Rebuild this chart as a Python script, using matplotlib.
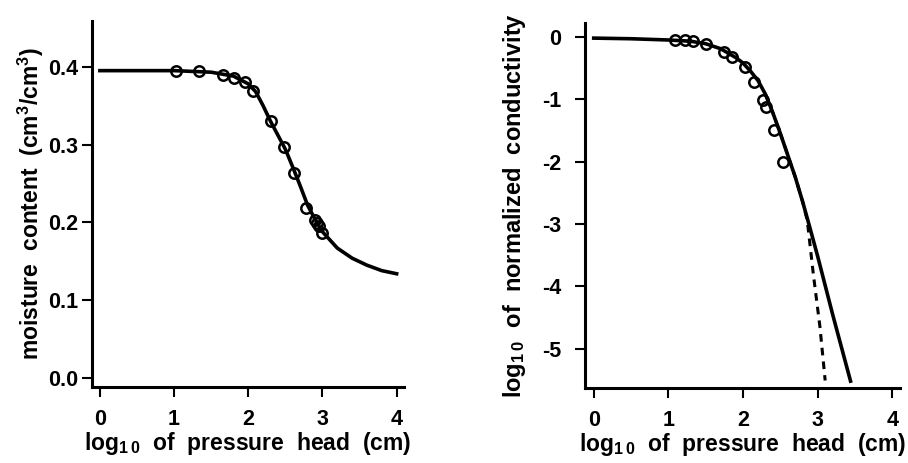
import matplotlib
matplotlib.use("Agg")
import matplotlib.pyplot as plt

plt.rcParams['font.family'] = ['Liberation Sans', 'DejaVu Sans']
plt.rcParams['font.weight'] = 'bold'
plt.rcParams['mathtext.fontset'] = 'custom'
plt.rcParams['mathtext.rm'] = 'Liberation Sans:bold'
plt.rcParams['mathtext.default'] = 'rm'

# left panel: measured moisture content
theta_x = [1.02, 1.33, 1.66, 1.81, 1.95, 2.07, 2.30, 2.48, 2.62, 2.78, 2.90, 2.92, 2.95, 3.00]
theta_y = [0.394, 0.394, 0.390, 0.385, 0.380, 0.369, 0.330, 0.297, 0.264, 0.219, 0.203, 0.199, 0.196, 0.187]

# left panel: fitted retention curve
fit_x = [0.0, 1.0, 1.5, 1.8, 2.0, 2.1, 2.2, 2.3, 2.4, 2.5, 2.6, 2.7, 2.8, 2.9, 3.0,
         3.2, 3.4, 3.6, 3.8, 4.0]
fit_y = [0.395, 0.395, 0.393, 0.388, 0.378, 0.368, 0.350, 0.330, 0.312, 0.294, 0.271,
         0.247, 0.222, 0.204, 0.188, 0.167, 0.154, 0.145, 0.138, 0.134]

# right panel: measured conductivity
k_x = [1.09, 1.22, 1.33, 1.51, 1.74, 1.85, 2.03, 2.15, 2.27, 2.31, 2.41, 2.54]
k_y = [-0.05, -0.05, -0.06, -0.12, -0.25, -0.32, -0.48, -0.73, -1.01, -1.12, -1.49, -2.01]

# right panel: solid model line
ks_x = [0.0, 0.5, 1.0, 1.3, 1.5, 1.7, 1.9, 2.0, 2.1, 2.2, 2.3, 2.4, 2.5, 2.6, 2.7,
        2.8, 2.9, 3.0, 3.2, 3.44]
ks_y = [-0.02, -0.03, -0.05, -0.07, -0.11, -0.19, -0.33, -0.42, -0.55, -0.70, -0.92,
        -1.22, -1.55, -1.90, -2.25, -2.65, -3.08, -3.52, -4.45, -5.52]

# right panel: dashed model line
kd_x = [2.3, 2.4, 2.5, 2.6, 2.7, 2.8, 2.86, 2.94, 3.03, 3.10]
kd_y = [-0.92, -1.22, -1.55, -1.90, -2.25, -2.65, -2.94, -3.79, -4.65, -5.51]

fig = plt.figure(figsize=(9.08, 4.63), dpi=100)
ax1 = fig.add_axes([0.101, 0.164, 0.344, 0.791])
ax2 = fig.add_axes([0.644, 0.162, 0.347, 0.788])

fs = 15.5
lfs = 16.5


def style(ax):
    for s in ['top', 'right']:
        ax.spines[s].set_visible(False)
    for s in ['left', 'bottom']:
        ax.spines[s].set_linewidth(2.2)
    ax.tick_params(direction='out', length=7, width=1.5, labelsize=fs, pad=5)
    ax.tick_params(axis='x', pad=9)
    ax.set_xticks([0, 1, 2, 3, 4])
    ax.set_xlabel('log$_{1\\,0}$  of  pressure  head  (cm)', fontsize=lfs,
                  fontweight='bold', labelpad=0)


style(ax1)
ax1.plot(fit_x, fit_y, color='black', lw=2.6)
ax1.plot(theta_x, theta_y, 'o', mfc='none', mec='black', ms=7.5, mew=1.8)
ax1.set_xlim(-0.11, 4.1)
ax1.set_ylim(-0.0116, 0.459)
ax1.set_yticks([0.0, 0.1, 0.2, 0.3, 0.4])
ax1.set_yticklabels(['0.0', '0.1', '0.2', '0.3', '0.4'])
ax1.tick_params(axis='y', pad=3)
ax1.set_ylabel('moisture  content  (cm$^3$/cm$^3$)', fontsize=lfs,
               fontweight='bold', labelpad=1)

style(ax2)
ax2.plot(ks_x, ks_y, color='black', lw=2.6)
ax2.plot(kd_x, kd_y, color='black', lw=2.2, ls=(0, (2.5, 2)))
ax2.plot(k_x, k_y, 'o', mfc='none', mec='black', ms=7.5, mew=1.8)
ax2.set_xlim(-0.12, 4.1)
ax2.set_ylim(-5.63, 0.22)
ax2.set_yticks([0, -1, -2, -3, -4, -5])
ax2.set_yticklabels(['0', '-1', '-2', '-3', '-4', '-5'])
ax2.tick_params(axis='y', pad=10)
ax2.set_ylabel('log$_{1\\,0}$  of  normalized  conductivity', fontsize=lfs + 0.5,
               fontweight='bold', labelpad=10)

fig.savefig('out.png', dpi=100)
